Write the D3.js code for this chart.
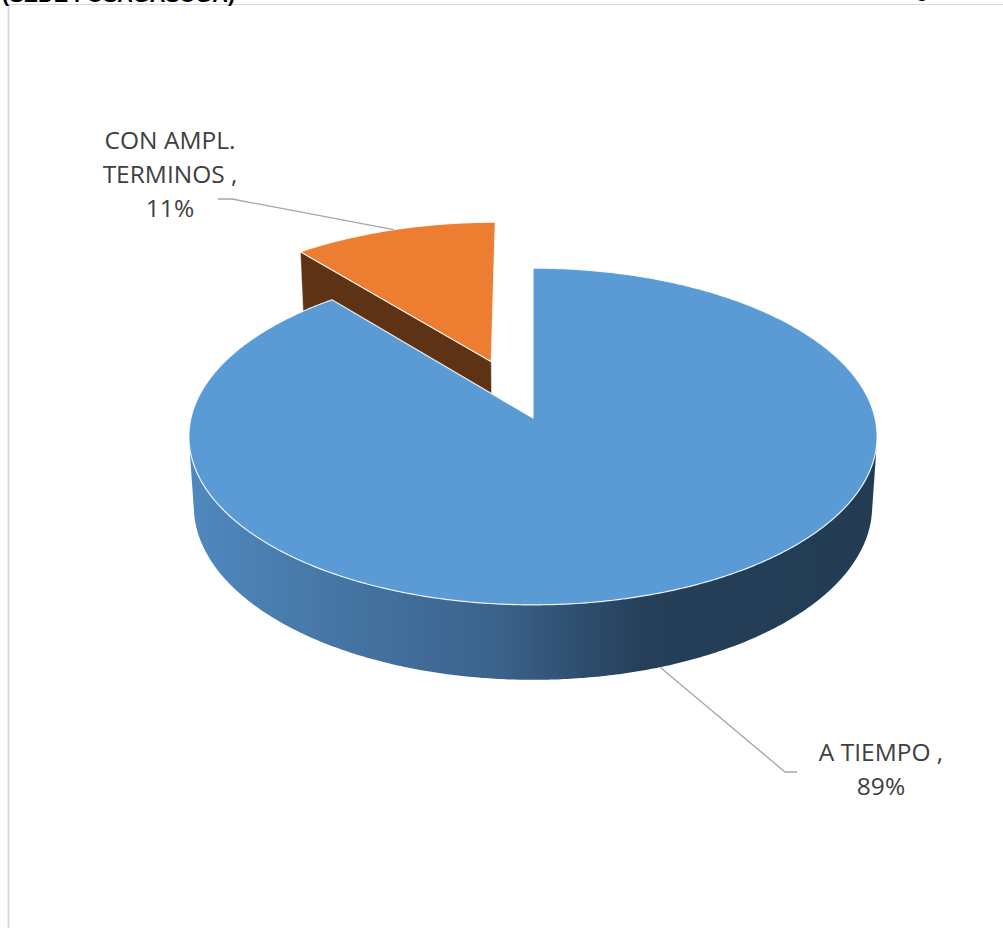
<!DOCTYPE html>
<html>
<head>
<meta charset="utf-8">
<script src="https://cdn.jsdelivr.net/npm/d3@7"></script>
<style>
  html, body { margin: 0; padding: 0; background: #ffffff; }
  svg { display: block; }
</style>
</head>
<body>
<svg id="chart" width="1003" height="928"></svg>
<script>
// Chart data
const categories = ["A TIEMPO", "CON AMPL. TERMINOS"];
const values = [89, 11];
const labelLines = [["A TIEMPO ,", "89%"], ["CON AMPL.", "TERMINOS ,", "11%"]];
const explode = [0, 0.374];           // radial offset of each slice (fraction of radius)
const topColors = ["#5b9bd5", "#ed7d31"];
const wallColors = ["#3a6188", "#5e3214"];
const headerText = "(SEDE FUSAGASUGA)";

const svg = d3.select("#chart");
const W = 1003, H = 928;

// Perspective camera for the 3-D pie
const cx = 533, cy = 418;             // projected pie centre
const F = 2721, Dist = 7.956;         // focal length and camera distance (radius = 1)
const alpha = 29.1 * Math.PI / 180;   // elevation
const sa = Math.sin(alpha), ca = Math.cos(alpha);
const T = 0.236;                       // pie thickness

function project(x, d, h) {
  const yUp = d * sa + h * ca;
  const z = Dist + d * ca - h * sa;
  return [cx + F * x / z, cy - F * yUp / z];
}
const cam = [0, -Dist * ca];           // camera position on the ground plane

// Frame
const frame = svg.append("g");
frame.append("line").attr("x1", 8.5).attr("y1", 4.5).attr("x2", W).attr("y2", 4.5)
  .attr("stroke", "#d9d9d9").attr("stroke-width", 1.2);
frame.append("line").attr("x1", 8.5).attr("y1", 4.5).attr("x2", 8.5).attr("y2", H)
  .attr("stroke", "#d9d9d9").attr("stroke-width", 2);

// Header text, mostly above the visible area
svg.append("text").attr("x", 2).attr("y", 1.5)
  .attr("font-family", "Liberation Sans, Arial, sans-serif").attr("font-weight", "bold")
  .attr("font-size", 20).attr("fill", "#000")
  .attr("textLength", 233).attr("lengthAdjust", "spacingAndGlyphs")
  .text(headerText);
svg.append("text").attr("x", 916).attr("y", -3)
  .attr("font-family", "Liberation Sans, Arial, sans-serif").attr("font-weight", "bold")
  .attr("font-size", 20).attr("fill", "#000").text("g");

// Side shading gradient for the blue slice
const defs = svg.append("defs");
const grad = defs.append("linearGradient").attr("id", "sideBlue")
  .attr("gradientUnits", "userSpaceOnUse").attr("x1", 188).attr("y1", 0).attr("x2", 878).attr("y2", 0);
[[0, "#5088bf"], [0.2, "#4677a6"], [0.45, "#3b628b"], [0.66, "#253f59"], [1, "#233c54"]]
  .forEach(([o, c]) => grad.append("stop").attr("offset", o).attr("stop-color", c));
const gradO = defs.append("linearGradient").attr("id", "sideOrange")
  .attr("gradientUnits", "userSpaceOnUse").attr("x1", 188).attr("y1", 0).attr("x2", 878).attr("y2", 0);
[[0, "#c86828"], [1, "#5e3214"]].forEach(([o, c]) => gradO.append("stop").attr("offset", o).attr("stop-color", c));
const sideFills = ["url(#sideBlue)", "url(#sideOrange)"];

// Pie layout: clockwise from the far side (12 o'clock)
const pie = d3.pie().sort(null).startAngle(0).endAngle(2 * Math.PI);
const arcs = pie(values).map((a, i) => {
  const mid = (a.startAngle + a.endAngle) / 2;
  return { ...a, i, mid, ox: explode[i] * Math.sin(mid), od: explode[i] * Math.cos(mid) };
});

const line = d3.line();
const STEP = Math.PI / 360;

function rimPoints(s, a0, a1, h) {
  const pts = [];
  const n = Math.max(2, Math.ceil((a1 - a0) / STEP));
  for (let k = 0; k <= n; k++) {
    const t = a0 + (a1 - a0) * k / n;
    pts.push(project(s.ox + Math.sin(t), s.od + Math.cos(t), h));
  }
  return pts;
}

function drawSlice(g, s) {
  const i = s.i;
  // Radial walls (skip those seen almost edge-on)
  [[s.startAngle, -1], [s.endAngle, 1]].forEach(([t, sign]) => {
    const n = [sign * Math.cos(t), -sign * Math.sin(t)];
    const dot = (s.ox - cam[0]) * n[0] + (s.od - cam[1]) * n[1];
    if (dot < -0.5) {
      const pts = [
        project(s.ox, s.od, 0),
        project(s.ox + Math.sin(t), s.od + Math.cos(t), 0),
        project(s.ox + Math.sin(t), s.od + Math.cos(t), -T),
        project(s.ox, s.od, -T)
      ];
      g.append("path").attr("d", line(pts) + "Z")
        .attr("fill", wallColors[i]).attr("stroke", "#ffffff")
        .attr("stroke-opacity", 0.6).attr("stroke-width", 0.8).attr("stroke-linejoin", "round");
    }
  });
  // Outer curved side: only the parts facing the camera
  const vis = t => (s.ox + Math.sin(t) - cam[0]) * Math.sin(t) + (s.od + Math.cos(t) - cam[1]) * Math.cos(t) < 0;
  const ranges = [];
  let cur = null;
  for (let t = s.startAngle; t <= s.endAngle + 1e-9; t += STEP / 2) {
    if (vis(t)) { if (!cur) cur = [t, t]; else cur[1] = t; }
    else if (cur) { ranges.push(cur); cur = null; }
  }
  if (cur) ranges.push(cur);
  ranges.forEach(([a0, a1]) => {
    const top = rimPoints(s, a0, a1, 0);
    const bot = rimPoints(s, a0, a1, -T).reverse();
    g.append("path").attr("d", line(top.concat(bot)) + "Z").attr("fill", sideFills[i]);
  });
  // Top face
  const top = [project(s.ox, s.od, 0)].concat(rimPoints(s, s.startAngle, s.endAngle, 0));
  g.append("path").attr("d", line(top) + "Z")
    .attr("fill", topColors[i]).attr("stroke", "#ffffff")
    .attr("stroke-opacity", 0.85).attr("stroke-width", 1.2).attr("stroke-linejoin", "round");
}

// Back slice first, front slice last
const pieG = svg.append("g");
[...arcs].sort((a, b) => b.od - a.od).forEach(s => drawSlice(pieG.append("g"), s));

// Data labels with leader lines
const labelFont = "'Open Sans', 'Noto Sans', sans-serif";
const labelPos = [
  { x: 881, y: 761, elbow: [785, 772], end: [797, 772], h: -T },
  { x: 170, y: 149, elbow: [232, 199], end: [218, 199], h: 0 }
];
arcs.forEach(s => {
  const p = labelPos[s.i];
  const anchor = project(s.ox + Math.sin(s.mid), s.od + Math.cos(s.mid), p.h);
  svg.append("path").attr("d", line([anchor, p.elbow, p.end]))
    .attr("fill", "none").attr("stroke", "#a6a6a6").attr("stroke-width", 1.3);
  const t = svg.append("text").attr("text-anchor", "middle")
    .attr("font-family", labelFont).attr("font-size", 24.5).attr("fill", "#404040");
  labelLines[s.i].forEach((ln, k) => {
    t.append("tspan").attr("x", p.x).attr("y", p.y + k * 34).text(ln);
  });
});
</script>
</body>
</html>
